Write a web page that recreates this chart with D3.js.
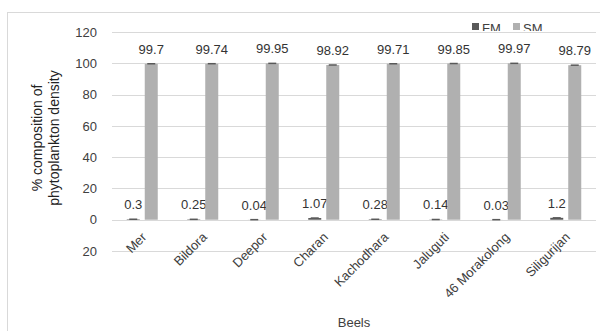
<!DOCTYPE html>
<html><head><meta charset="utf-8">
<script src="https://cdn.jsdelivr.net/npm/d3@7"></script>
<style>body{margin:0;background:#fff}svg{display:block}</style>
</head><body>
<svg id="c" width="600" height="331"></svg>
<script>
const categories = ["Mer","Bildora","Deepor","Charan","Kachodhara","Jaluguti","46 Morakolong","Siligurijan"];
const seriesNames = ["FM","SM"];
const fmValues = [0.3,0.25,0.04,1.07,0.28,0.14,0.03,1.2];
const smValues = [99.7,99.74,99.95,98.92,99.71,99.85,99.97,98.79];
const yTicks = [-20,0,20,40,60,80,100,120];
const colors = {FM:"#595959", SM:"#b0b0b0"};
const font = "'Liberation Sans', Arial, sans-serif";
const textColor = "#404040";

const svg = d3.select("#c");
const plot = {left:112, right:596, top:32, bottom:251};

// chart border
svg.append("rect").attr("x",7.5).attr("y",12.5).attr("width",620).attr("height",340)
  .attr("fill","none").attr("stroke","#d9d9d9");

const x = d3.scaleBand().domain(categories).range([plot.left, plot.right]);
const y = d3.scaleLinear().domain([-20,120]).range([plot.bottom, plot.top]);

// legend (clipped at top of plot like reference)
svg.append("clipPath").attr("id","lc").append("rect").attr("x",0).attr("y",0).attr("width",600).attr("height",31);
const lg = svg.append("g").attr("clip-path","url(#lc)");
const legendX = [472, 513];
seriesNames.forEach((s,i)=>{
  lg.append("rect").attr("x",legendX[i]).attr("y",23).attr("width",7).attr("height",7).attr("fill",colors[s]);
  lg.append("text").attr("x",legendX[i]+10).attr("y",33).attr("font-family",font).attr("font-size",13)
    .attr("fill",textColor).text(s);
});

// gridlines
svg.append("g").selectAll("line").data(yTicks).join("line")
  .attr("x1",plot.left).attr("x2",plot.right)
  .attr("y1",d=>Math.round(y(d))+0.5).attr("y2",d=>Math.round(y(d))+0.5)
  .attr("stroke","#d9d9d9");

// y axis labels
const yAxis = d3.axisLeft(y).tickValues(yTicks).tickSize(0).tickPadding(0).tickFormat(d=>String(Math.abs(d)));
const ya = svg.append("g").attr("transform",`translate(97,0)`).call(yAxis);
ya.select(".domain").remove();
ya.selectAll("text").attr("font-family",font).attr("font-size",13).attr("fill",textColor);

// bars
const barW = 13, gap = 5;
const offs = {FM: -(barW+gap)/2 - barW/2, SM: (gap)/2};
const data = categories.map((c,i)=>({c, FM:fmValues[i], SM:smValues[i]}));
const center = c => x(c) + x.bandwidth()/2;
seriesNames.forEach(s=>{
  const g = svg.append("g");
  g.selectAll("rect").data(data).join("rect")
    .attr("x",d=>center(d.c)+offs[s]).attr("width",barW)
    .attr("y",d=>y(d[s])).attr("height",d=>y(0)-y(d[s]))
    .attr("fill",colors[s]);
  // error bar caps
  g.selectAll("line").data(data).join("line")
    .attr("x1",d=>center(d.c)+offs[s]+2.5).attr("x2",d=>center(d.c)+offs[s]+barW-2.5)
    .attr("y1",d=>y(d[s])).attr("y2",d=>y(d[s]))
    .attr("stroke","#595959").attr("stroke-width",1.5);
  g.selectAll("text").data(data).join("text")
    .attr("x",d=>center(d.c)+offs[s]+barW/2).attr("y",d=>y(d[s])-10)
    .attr("text-anchor","middle").attr("font-family",font).attr("font-size",13)
    .attr("fill","#333").text(d=>d[s]);
});

// x labels
svg.append("g").selectAll("text").data(categories).join("text")
  .attr("transform",c=>`translate(${center(c)+5},${238}) rotate(-45)`)
  .attr("text-anchor","end").attr("font-family",font).attr("font-size",13)
  .attr("fill",textColor).text(c=>c);

// axis titles
svg.append("text").attr("x",354).attr("y",327).attr("text-anchor","middle")
  .attr("font-family",font).attr("font-size",13).attr("fill",textColor).text("Beels");
const yt = svg.append("text").attr("transform","translate(42,138) rotate(-90)")
  .attr("text-anchor","middle").attr("font-family",font).attr("font-size",14).attr("fill","#222");
yt.append("tspan").attr("x",0).attr("dy",0).text("% composition of");
yt.append("tspan").attr("x",0).attr("dy",17).text("phytoplankton density");
</script>
</body></html>
